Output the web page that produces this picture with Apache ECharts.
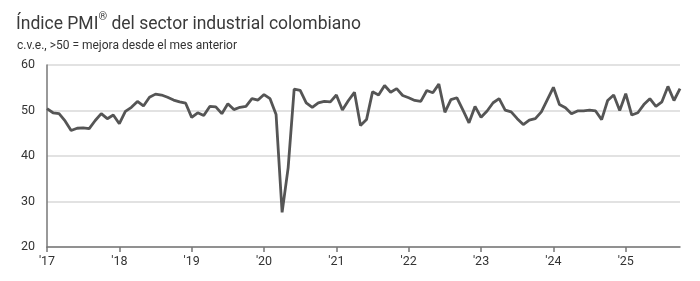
<!DOCTYPE html>
<html>
<head>
<meta charset="utf-8">
<script src="https://cdn.jsdelivr.net/npm/echarts@6/dist/echarts.min.js"></script>
<style>
html,body{margin:0;padding:0;background:#fff;}
#c{width:700px;height:281px;}
</style>
</head>
<body>
<div id="c"></div>
<script>
var titleMain = "Índice PMI";
var titleMark = "®";
var titleRest = " del sector industrial colombiano";
var subtitleText = "c.v.e., >50 = mejora desde el mes anterior";
var startYear = 2017;
var pmiValues = [
  50.4, 49.5, 49.3, 47.7, 45.6, 46.1, 46.2, 46.0, 47.8, 49.3, 48.2, 49.0,
  47.1, 49.8, 50.7, 52.0, 51.0, 52.9, 53.6, 53.4, 52.9, 52.3, 51.9, 51.6,
  48.5, 49.5, 48.9, 50.9, 50.8, 49.3, 51.5, 50.2, 50.7, 50.9, 52.6, 52.3,
  53.5, 52.6, 49.1, 27.6, 37.4, 54.7, 54.4, 51.7, 50.7, 51.7, 52.0, 51.9,
  53.4, 50.1, 52.2, 54.0, 46.7, 48.0, 54.1, 53.4, 55.5, 54.0, 54.8, 53.3,
  52.8, 52.2, 52.0, 54.4, 53.9, 55.8, 49.6, 52.4, 52.8, 50.1, 47.3, 50.9,
  48.5, 49.9, 51.7, 52.6, 50.1, 49.7, 48.2, 46.9, 47.9, 48.2, 49.7, 52.4,
  55.1, 51.3, 50.6, 49.3, 49.9, 49.9, 50.1, 49.9, 48.0, 52.2, 53.4, 50.0,
  53.7, 49.0, 49.5, 51.3, 52.6, 50.9, 51.9, 55.3, 52.2, 54.8
];
var yTicks = [20, 30, 40, 50, 60];

var months = [];
for (var i = 0; i < pmiValues.length; i++) {
  var y = startYear + Math.floor(i / 12);
  var m = (i % 12) + 1;
  months.push(y + '-' + (m < 10 ? '0' + m : m));
}
function isJan(idx) { return idx % 12 === 0; }

var chart = echarts.init(document.getElementById('c'), null, {renderer: 'canvas'});
chart.setOption({
  animation: false,
  backgroundColor: '#ffffff',
  title: [{
    text: '{a|' + titleMain + '}{s|' + titleMark + '}{a|' + titleRest + '}',
    left: 11, top: 7,
    textStyle: {
      fontWeight: 'normal',
      rich: {
        a: {fontFamily: 'Roboto', fontSize: 17.5, fontWeight: 'normal', color: '#3a3a3a', verticalAlign: 'bottom', lineHeight: 22},
        s: {fontFamily: 'Roboto', fontSize: 11, fontWeight: 'normal', color: '#3a3a3a', verticalAlign: 'top', lineHeight: 22, padding: [0, 0, 6, 0]}
      }
    }
  }, {
    text: subtitleText,
    left: 12, top: 35,
    textStyle: {fontFamily: 'Roboto', fontSize: 12, fontWeight: 'normal', color: '#333333'}
  }],
  grid: {left: 47, right: 20, top: 65, bottom: 34, containLabel: false},
  xAxis: {
    type: 'category',
    data: months,
    boundaryGap: false,
    axisLine: {lineStyle: {color: '#777777', width: 1.5}},
    axisTick: {show: true, length: 5, interval: function (idx) { return isJan(idx); }, lineStyle: {color: '#777777', width: 1.5}},
    axisLabel: {
      interval: function (idx) { return isJan(idx); },
      formatter: function (v) { return "'" + v.slice(2, 4); },
      fontFamily: 'Roboto', fontSize: 12.5, color: '#333333', margin: 8
    },
    splitLine: {show: false}
  },
  yAxis: {
    type: 'value',
    min: yTicks[0], max: yTicks[yTicks.length - 1], interval: 10,
    axisLine: {show: true, lineStyle: {color: '#777777', width: 1.5}},
    axisTick: {show: false},
    axisLabel: {fontFamily: 'Roboto', fontSize: 12.5, color: '#333333', margin: 12},
    splitLine: {lineStyle: {color: '#d9d9d9', width: 1.5}}
  },
  series: [{
    type: 'line',
    data: pmiValues,
    showSymbol: false,
    symbol: 'none',
    lineStyle: {color: '#555555', width: 2.8},
    z: 3
  }]
});
</script>
</body>
</html>
